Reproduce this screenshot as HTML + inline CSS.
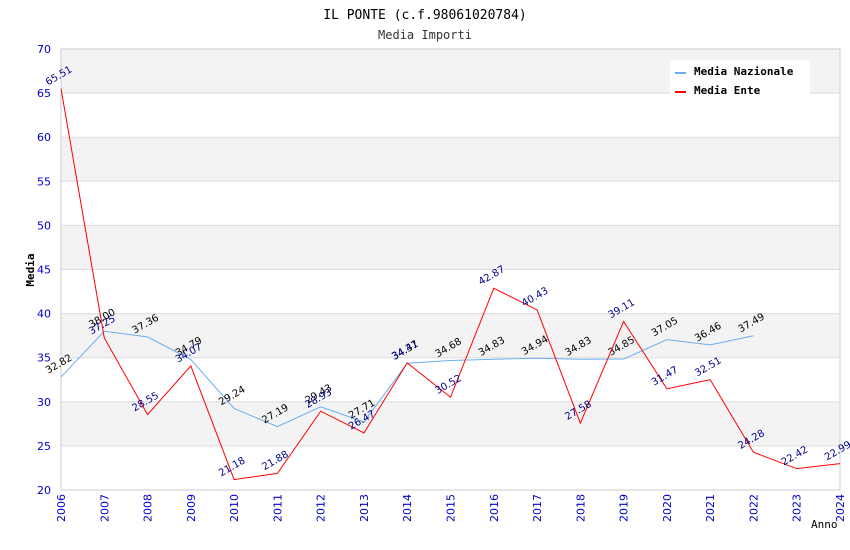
<!DOCTYPE html>
<html><head><meta charset="utf-8"><style>
body{margin:0;background:#fff;}
svg{display:block;font-family:"DejaVu Sans Mono","Liberation Mono",monospace;}
</style></head><body>
<svg id="c" width="850" height="550">
<text x="425" y="19" text-anchor="middle" font-size="13" fill="#000">IL PONTE (c.f.98061020784)</text>
<text x="425" y="39" text-anchor="middle" font-size="12" fill="#333">Media Importi</text>
<g id="plot"></g>
</svg>
<script>
const years=[2006,2007,2008,2009,2010,2011,2012,2013,2014,2015,2016,2017,2018,2019,2020,2021,2022,2023,2024];
const nazionale=[32.82,38.00,37.36,34.79,29.24,27.19,29.43,27.71,34.37,34.68,34.83,34.94,34.83,34.85,37.05,36.46,37.49];
const ente=[65.51,37.25,28.55,34.07,21.18,21.88,28.93,26.47,34.41,30.52,42.87,40.43,27.58,39.11,31.47,32.51,24.28,22.42,22.99];
const yTicks=[20,25,30,35,40,45,50,55,60,65,70];
const L=61,R=840,T=49,B=490,ymin=20,ymax=70;
const X=i=>L+(R-L)*i/(years.length-1);
const Y=v=>B-(B-T)*(v-ymin)/(ymax-ymin);
const g=document.getElementById('plot');const NS='http://www.w3.org/2000/svg';
function mk(t,a,p){const e=document.createElementNS(NS,t);for(const k in a)e.setAttribute(k,a[k]);(p||g).appendChild(e);return e;}
for(let i=0;i<yTicks.length-1;i++){
 const lo=yTicks[i],hi=yTicks[i+1];
 const r=mk('rect',{x:L,y:Y(hi),width:R-L,height:Y(lo)-Y(hi),fill:(hi%10===0)?'#f3f3f3':'#fff'});
 
 
}
yTicks.forEach(v=>{
 const l=mk('line',{x1:L,x2:R,y1:Y(v),y2:Y(v),stroke:'#ddd'});
 
 
 const t=mk('text',{x:L-10,y:Y(v)+4,'text-anchor':'end','font-size':11,fill:'#00c','font-family':'DejaVu Sans, sans-serif'});
 t.textContent=v;
 
 
});
const fr=mk('rect',{x:L,y:T,width:R-L,height:B-T,fill:'none',stroke:'#ccc'});


years.forEach((yr,i)=>{
 const t=mk('text',{transform:`translate(${X(i)+4},${B+4}) rotate(-90)`,'text-anchor':'end','font-size':11,fill:'#00c','font-family':'DejaVu Sans, sans-serif'});
 t.textContent=yr;
 
 
});
const yt=mk('text',{transform:'translate(34,270) rotate(-90)','text-anchor':'middle','font-size':11,'font-weight':'bold'});
yt.textContent='Media';


const xt=mk('text',{x:811,y:528,'font-size':11});
xt.textContent='Anno';


function series(arr,color,lblColor,name){
 const p=mk('polyline',{points:arr.map((v,i)=>X(i)+','+Y(v)).join(' '),fill:'none',stroke:color,'stroke-width':1});
 
 
 arr.forEach((v,i)=>{
  const t=mk('text',{transform:`translate(${X(i)-13},${Y(v)-3}) rotate(-30)`,'font-size':10,fill:lblColor,'font-family':'DejaVu Sans, sans-serif'});
  t.textContent=v.toFixed(2);
  
  
 });
}
series(nazionale,'#6aaef0','#000','nazionale');
series(ente,'#f00','#00008b','ente');
const lg=mk('g',{});


mk('rect',{x:670,y:60,width:140,height:35,fill:'#fff'},lg);
mk('line',{x1:675,x2:686,y1:73,y2:73,stroke:'#6aaef0','stroke-width':2},lg);
mk('line',{x1:675,x2:686,y1:92,y2:92,stroke:'#f00','stroke-width':2},lg);
const a=mk('text',{x:694,y:75,'font-size':11,'font-weight':'bold'},lg);a.textContent='Media Nazionale';


const b=mk('text',{x:694,y:94,'font-size':11,'font-weight':'bold'},lg);b.textContent='Media Ente';


</script>
</body></html>
